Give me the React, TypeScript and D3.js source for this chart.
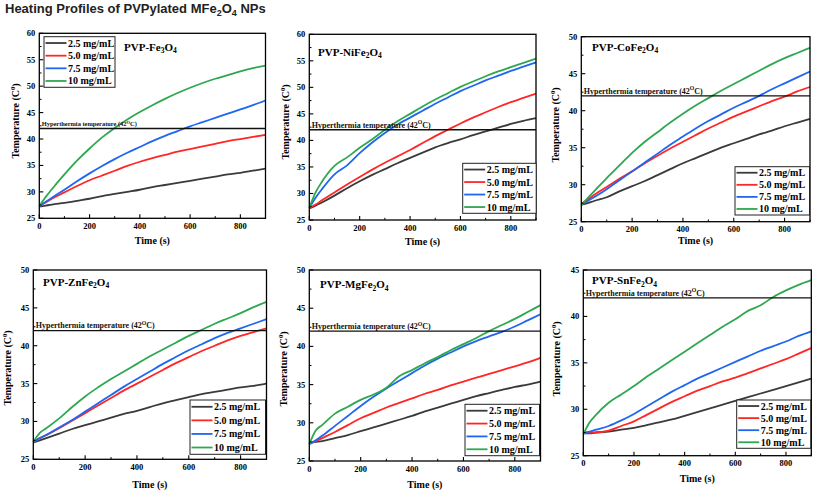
import React from 'react';
import * as d3 from 'd3';

// ---------- DATA ----------
const TIME = [0, 25, 50, 100, 150, 200, 250, 300, 350, 400, 450, 500, 550, 600, 650, 700, 750, 800, 850, 900];
const SERIES_LABELS = ['2.5 mg/mL', '5.0 mg/mL', '7.5 mg/mL', '10 mg/mL'];
const COLORS = ['#3a3a3a', '#ff2626', '#1f66f0', '#2ea84f'];
const HYPER_T = 42;

const FE3O4_25 = [27.2, 27.4, 27.6, 27.9, 28.3, 28.7, 29.2, 29.6, 30.0, 30.4, 30.9, 31.3, 31.7, 32.1, 32.5, 32.9, 33.3, 33.6, 34.0, 34.4];
const FE3O4_50 = [27.3, 28.0, 28.7, 29.9, 31.1, 32.2, 33.1, 34.0, 34.9, 35.7, 36.4, 37.0, 37.6, 38.1, 38.6, 39.1, 39.6, 40.0, 40.4, 40.8];
const FE3O4_75 = [27.3, 28.1, 28.9, 30.4, 32.0, 33.5, 34.9, 36.2, 37.4, 38.5, 39.6, 40.6, 41.5, 42.4, 43.2, 44.0, 44.8, 45.6, 46.4, 47.3];
const FE3O4_10 = [27.3, 29.0, 30.5, 33.3, 35.9, 38.2, 40.3, 42.1, 43.7, 45.1, 46.4, 47.6, 48.7, 49.7, 50.6, 51.4, 52.1, 52.8, 53.4, 53.9];

const NI_25 = [27.2, 27.7, 28.3, 29.6, 31.0, 32.3, 33.5, 34.6, 35.7, 36.7, 37.7, 38.7, 39.5, 40.2, 41.0, 41.7, 42.4, 43.1, 43.7, 44.2];
const NI_50 = [27.2, 27.9, 28.7, 30.2, 31.7, 33.1, 34.5, 35.8, 37.0, 38.2, 39.5, 40.8, 42.0, 43.2, 44.3, 45.3, 46.3, 47.2, 48.0, 48.8];
const NI_75 = [27.3, 29.2, 30.8, 33.6, 35.3, 37.6, 39.6, 41.4, 43.0, 44.3, 45.6, 46.9, 48.1, 49.3, 50.3, 51.3, 52.2, 53.1, 53.9, 54.7];
const NI_10 = [27.3, 30.2, 32.2, 35.2, 36.8, 38.6, 40.2, 42.0, 43.6, 45.0, 46.4, 47.7, 48.9, 50.1, 51.1, 52.1, 53.0, 53.8, 54.6, 55.4];

const CO_25 = [27.3, 27.5, 27.8, 28.3, 29.1, 29.8, 30.5, 31.3, 32.1, 32.9, 33.6, 34.3, 35.0, 35.6, 36.2, 36.8, 37.3, 37.9, 38.4, 38.9];
const CO_50 = [27.4, 28.0, 28.6, 29.7, 30.8, 31.8, 32.9, 33.9, 34.9, 35.8, 36.7, 37.6, 38.4, 39.2, 39.9, 40.6, 41.3, 41.9, 42.6, 43.2];
const CO_75 = [27.3, 27.8, 28.3, 29.4, 30.6, 31.8, 33.0, 34.2, 35.4, 36.5, 37.6, 38.6, 39.5, 40.4, 41.2, 42.0, 42.9, 43.7, 44.5, 45.3];
const CO_10 = [27.2, 28.2, 29.1, 30.9, 32.6, 34.3, 35.8, 37.1, 38.4, 39.6, 40.7, 41.7, 42.7, 43.6, 44.5, 45.4, 46.3, 47.1, 47.8, 48.5];

const ZN_25 = [27.2, 27.5, 27.8, 28.4, 29.0, 29.5, 30.0, 30.5, 31.0, 31.4, 31.9, 32.4, 32.8, 33.2, 33.6, 33.9, 34.2, 34.5, 34.7, 35.0];
const ZN_50 = [27.3, 27.8, 28.2, 29.1, 30.1, 31.1, 32.1, 33.1, 34.1, 35.0, 35.9, 36.8, 37.7, 38.5, 39.3, 40.0, 40.7, 41.3, 41.8, 42.3];
const ZN_75 = [27.3, 27.8, 28.2, 29.2, 30.2, 31.3, 32.4, 33.5, 34.6, 35.6, 36.6, 37.6, 38.5, 39.4, 40.2, 41.0, 41.7, 42.3, 42.9, 43.5];
const ZN_10 = [27.3, 28.5, 29.1, 30.4, 31.9, 33.3, 34.5, 35.6, 36.6, 37.6, 38.6, 39.5, 40.4, 41.3, 42.1, 42.9, 43.6, 44.3, 45.1, 45.8];

const MG_25 = [27.4, 27.5, 27.6, 28.0, 28.4, 28.9, 29.4, 29.9, 30.4, 30.9, 31.5, 32.0, 32.5, 33.0, 33.5, 33.9, 34.3, 34.7, 35.0, 35.4];
const MG_50 = [27.3, 27.6, 28.0, 28.8, 29.7, 30.6, 31.3, 32.0, 32.6, 33.2, 33.8, 34.3, 34.9, 35.4, 35.9, 36.4, 36.9, 37.4, 37.9, 38.5];
const MG_75 = [27.2, 27.7, 28.3, 29.6, 30.9, 32.2, 33.4, 34.5, 35.5, 36.5, 37.5, 38.4, 39.2, 40.0, 40.7, 41.3, 41.9, 42.6, 43.4, 44.2];
const MG_10 = [27.2, 29.0, 29.7, 31.2, 32.1, 33.0, 33.7, 34.6, 36.1, 36.9, 37.8, 38.6, 39.5, 40.3, 41.1, 42.0, 42.8, 43.6, 44.5, 45.4];

const SN_25 = [27.4, 27.4, 27.5, 27.6, 27.8, 28.0, 28.3, 28.6, 28.9, 29.3, 29.7, 30.1, 30.5, 30.9, 31.3, 31.7, 32.1, 32.5, 32.9, 33.3];
const SN_50 = [27.4, 27.5, 27.5, 27.7, 28.2, 28.7, 29.4, 30.1, 30.8, 31.4, 32.0, 32.5, 33.0, 33.4, 33.9, 34.4, 34.9, 35.4, 36.0, 36.6];
const SN_75 = [27.5, 27.6, 27.8, 28.2, 28.8, 29.5, 30.3, 31.1, 31.9, 32.6, 33.3, 33.9, 34.5, 35.1, 35.7, 36.3, 36.8, 37.3, 37.9, 38.4];
const SN_10 = [27.3, 28.6, 29.4, 30.7, 31.6, 32.5, 33.5, 34.4, 35.3, 36.2, 37.1, 38.0, 38.9, 39.7, 40.6, 41.2, 42.1, 42.8, 43.4, 43.9];

const PANEL_METALS = ['Fe', 'NiFe', 'CoFe', 'ZnFe', 'MgFe', 'SnFe'];
const PANEL_SUBS = ['3', '2', '2', '2', '2', '2'];
const PANEL_YMAX = [60, 60, 50, 50, 50, 45];
const PANEL_DATA = [
  [FE3O4_25, FE3O4_50, FE3O4_75, FE3O4_10],
  [NI_25, NI_50, NI_75, NI_10],
  [CO_25, CO_50, CO_75, CO_10],
  [ZN_25, ZN_50, ZN_75, ZN_10],
  [MG_25, MG_50, MG_75, MG_10],
  [SN_25, SN_50, SN_75, SN_10],
];

// ---------- LAYOUT ----------
const LAYOUT = [
  { l: 39.3, r: 265.5, t: 33.3, b: 218.3, leg: [44, 36.7, 71, 50.6], title: [124, 50.5], ylab: [15, 121], xlabY: 243.5, hyperFs: 6.4 },
  { l: 309.3, r: 536, t: 34.3, b: 220, leg: [462.7, 163.3, 73.5, 50], title: [318, 55.5], ylab: [285, 122], xlabY: 245, hyperFs: 8 },
  { l: 581.3, r: 810, t: 36.7, b: 221.7, leg: [735, 166.7, 74.5, 48.3], title: [592, 50.5], ylab: [555, 125], xlabY: 243.5, hyperFs: 8 },
  { l: 33.3, r: 266.5, t: 270, b: 459.3, leg: [190, 400, 75.5, 54.3], title: [43, 285.5], ylab: [7, 368], xlabY: 488, hyperFs: 8 },
  { l: 309.3, r: 540.5, t: 270, b: 461, leg: [465, 404.3, 74.5, 51.4], title: [320, 288], ylab: [283, 369], xlabY: 488, hyperFs: 8 },
  { l: 583.3, r: 811.3, t: 270, b: 455.7, leg: [736.7, 400, 74, 48.3], title: [592, 284], ylab: [556, 359], xlabY: 482, hyperFs: 8 },
];

const SERIF = "'Liberation Serif', 'Times New Roman', serif";

function Panel({ idx }: { idx: number }) {
  const L = LAYOUT[idx];
  const yMax = PANEL_YMAX[idx];
  const x = d3.scaleLinear().domain([0, 900]).range([L.l, L.r]);
  const y = d3.scaleLinear().domain([25, yMax]).range([L.b, L.t]);
  const line = d3
    .line<number>()
    .x((_, i) => x(TIME[i]))
    .y((d) => y(d))
    .curve(d3.curveMonotoneX);
  const xMajor = d3.range(0, 801, 200);
  const xMinor = d3.range(100, 901, 200);
  const yMajor = d3.range(25, yMax + 0.01, 5);
  const yMinor = d3.range(27.5, yMax, 5);
  const [lx, ly, lw, lh] = L.leg;
  const rowH = lh / 4;
  const hy = y(HYPER_T);

  return (
    <g>
      {PANEL_DATA[idx].map((s, i) => (
        <path key={i} d={line(s) || ''} fill="none" stroke={COLORS[i]} strokeWidth={1.8} />
      ))}
      <line x1={L.l} x2={L.r} y1={hy} y2={hy} stroke="#111" strokeWidth={1.4} />
      <text x={L.l + 2.5} y={hy - 2.3} fontFamily={SERIF} fontWeight="bold" fontSize={L.hyperFs} fill="#111">
        Hyperthermia temperature (42
        <tspan dy={-L.hyperFs * 0.4} fontSize={L.hyperFs * 0.72}>O</tspan>
        <tspan dy={L.hyperFs * 0.4}>C)</tspan>
      </text>

      {/* frame */}
      <rect x={L.l} y={L.t} width={L.r - L.l} height={L.b - L.t} fill="none" stroke="#000" strokeWidth={1.3} />
      {/* x ticks */}
      {xMajor.map((v) => (
        <g key={'xm' + v}>
          <line x1={x(v)} x2={x(v)} y1={L.b} y2={L.b - 4} stroke="#000" strokeWidth={1.1} />
          <text x={x(v)} y={L.b + 10.5} textAnchor="middle" fontFamily={SERIF} fontWeight="bold" fontSize={8.5}>
            {v}
          </text>
        </g>
      ))}
      {xMinor.map((v) => (
        <line key={'xn' + v} x1={x(v)} x2={x(v)} y1={L.b} y2={L.b - 2.2} stroke="#000" strokeWidth={1} />
      ))}
      {/* y ticks */}
      {yMajor.map((v) => (
        <g key={'ym' + v}>
          <line x1={L.l} x2={L.l + 4} y1={y(v)} y2={y(v)} stroke="#000" strokeWidth={1.1} />
          <text x={L.l - 4} y={y(v) + 3} textAnchor="end" fontFamily={SERIF} fontWeight="bold" fontSize={8.5}>
            {v}
          </text>
        </g>
      ))}
      {yMinor.map((v) => (
        <line key={'yn' + v} x1={L.l} x2={L.l + 2.2} y1={y(v)} y2={y(v)} stroke="#000" strokeWidth={1} />
      ))}

      {/* axis titles */}
      <text x={(L.l + L.r) / 2} y={L.xlabY} textAnchor="middle" fontFamily={SERIF} fontWeight="bold" fontSize={10}>
        Time (s)
      </text>
      <text
        transform={`translate(${L.ylab[0]},${L.ylab[1]}) rotate(-90)`}
        textAnchor="middle"
        dy="0.35em"
        fontFamily={SERIF}
        fontWeight="bold"
        fontSize={10}
      >
        Temperature (C<tspan dy={-4} fontSize={6.5}>0</tspan>
        <tspan dy={4}>)</tspan>
      </text>

      {/* panel title */}
      <text x={L.title[0]} y={L.title[1]} fontFamily={SERIF} fontWeight="bold" fontSize={11}>
        {'PVP-' + PANEL_METALS[idx]}
        <tspan dy={2.5} fontSize={7.5}>{PANEL_SUBS[idx]}</tspan>
        <tspan dy={-2.5}>O</tspan>
        <tspan dy={2.5} fontSize={7.5}>4</tspan>
      </text>

      {/* legend */}
      <rect x={lx} y={ly} width={lw} height={lh} fill="#fff" stroke="#222" strokeWidth={1} />
      {SERIES_LABELS.map((lab, i) => {
        const cy = ly + rowH * (i + 0.5);
        return (
          <g key={lab}>
            <line x1={lx + 1.5} x2={lx + 22.5} y1={cy} y2={cy} stroke={COLORS[i]} strokeWidth={1.8} />
            <text x={lx + 24} y={cy + 3.5} fontFamily={SERIF} fontWeight="bold" fontSize={10}>
              {lab}
            </text>
          </g>
        );
      })}
    </g>
  );
}

export default function App() {
  return (
    <svg
      width={813}
      height={490}
      viewBox="0 0 813 490"
      style={{ position: 'absolute', left: 0, top: 0, background: '#fff' }}
    >
      <rect x={0} y={0} width={813} height={490} fill="#fff" />
      <text x={5} y={12.5} fontFamily="'Liberation Sans', Arial, sans-serif" fontWeight="bold" fontSize={13} fill="#222">
        Heating Profiles of PVPylated MFe
        <tspan dy={3} fontSize={9}>2</tspan>
        <tspan dy={-3}>O</tspan>
        <tspan dy={3} fontSize={9}>4</tspan>
        <tspan dy={-3}> NPs</tspan>
      </text>
      {PANEL_METALS.map((_, i) => (
        <Panel key={i} idx={i} />
      ))}
    </svg>
  );
}
